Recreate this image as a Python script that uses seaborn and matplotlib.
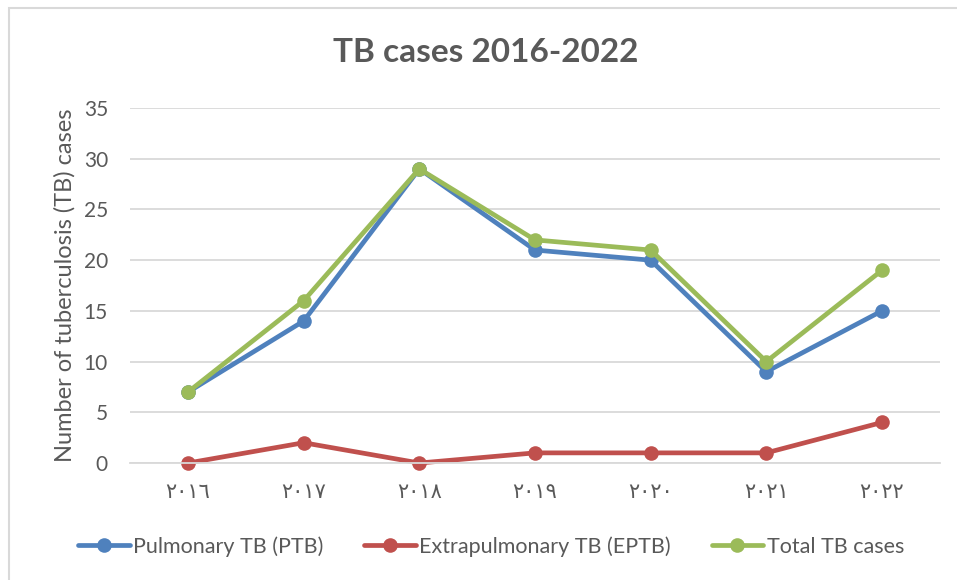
import matplotlib
matplotlib.use("Agg")
import matplotlib.pyplot as plt
import seaborn as sns
import pandas as pd
from matplotlib.patches import Rectangle

# Data
years = ["٢٠١٦", "٢٠١٧", "٢٠١٨", "٢٠١٩", "٢٠٢٠", "٢٠٢١", "٢٠٢٢"]
ptb = [7, 14, 29, 21, 20, 9, 15]
eptb = [0, 2, 0, 1, 1, 1, 4]
total = [7, 16, 29, 22, 21, 10, 19]

series_names = ["Pulmonary TB (PTB)", "Extrapulmonary TB (EPTB)", "Total TB cases"]
colors = ["#4F81BD", "#C0504D", "#9BBB59"]

df = pd.DataFrame({
    "Year": years * 3,
    "Cases": ptb + eptb + total,
    "Series": [series_names[0]] * 7 + [series_names[1]] * 7 + [series_names[2]] * 7,
})

sns.set_theme(style="white")
plt.rcParams["font.family"] = ["Lato", "DejaVu Sans"]
text_color = "#595959"

fig = plt.figure(figsize=(9.57, 5.8), dpi=100)
ax = fig.add_axes([0.136, 0.2017, 0.846, 0.612])

sns.lineplot(data=df, x="Year", y="Cases", hue="Series", palette=colors,
             marker="o", markersize=10.5, markeredgewidth=0, linewidth=3.4,
             sort=False, ax=ax, legend=False, clip_on=False)

ax.set_xlim(-0.5, 6.5)
ax.set_ylim(0, 35)
ax.set_yticks(range(0, 36, 5))
ax.yaxis.grid(True, color="#D9D9D9", linewidth=1.3)
ax.set_axisbelow(True)
for s in ["top", "right", "left"]:
    ax.spines[s].set_visible(False)
ax.spines["bottom"].set_color("#D9D9D9")
ax.spines["bottom"].set_linewidth(1.3)
ax.tick_params(axis="both", length=0, labelsize=15, labelcolor=text_color)
ax.tick_params(axis="y", pad=16)
ax.tick_params(axis="x", pad=14)
ax.set_xlabel("")
ax.set_ylabel("Number of tuberculosis (TB) cases", fontsize=17, color=text_color, labelpad=6)

fig.text(0.507, 0.91, "TB cases 2016-2022", ha="center", va="center",
         fontsize=24, fontweight="bold", color=text_color)

# Legend
handles = [plt.Line2D([0], [0], color=c, linewidth=3.4, marker="o", markersize=10.5,
                      markeredgewidth=0) for c in colors]
fig.legend(handles, series_names, loc="center", bbox_to_anchor=(0.513, 0.058), ncol=3,
           frameon=False, fontsize=15.5, labelcolor=text_color, handlelength=2.4,
           handletextpad=0.15, columnspacing=1.9)

# Chart-area border (only top and left edges visible in the reference)
fig.patches.append(Rectangle((9 / 957, -0.1), 1.2, 1 - 8 / 580 + 0.1,
                             transform=fig.transFigure, fill=False,
                             edgecolor="#D9D9D9", linewidth=1.5))

fig.savefig("out.png", dpi=100)
